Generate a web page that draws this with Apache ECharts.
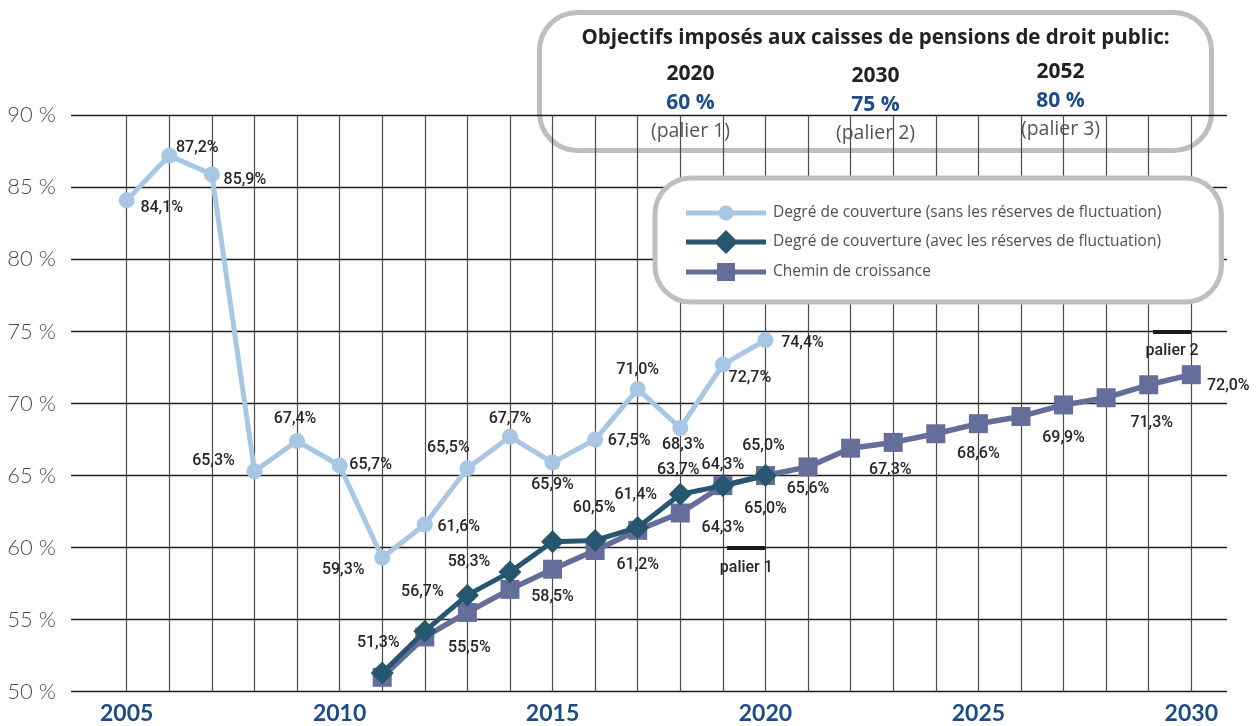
<!DOCTYPE html>
<html>
<head>
<meta charset="utf-8">
<script src="https://cdn.jsdelivr.net/npm/echarts@6/dist/echarts.min.js"></script>
<style>
  html, body { margin: 0; padding: 0; background: #fff; }
  #main { width: 1257px; height: 726px; }
</style>
</head>
<body>
<div id="main"></div>
<script>
// ---- data ----
const sansYears  = [2005, 2006, 2007, 2008, 2009, 2010, 2011, 2012, 2013, 2014, 2015, 2016, 2017, 2018, 2019, 2020];
const sansValues = [84.1, 87.2, 85.9, 65.3, 67.4, 65.7, 59.3, 61.6, 65.5, 67.7, 65.9, 67.5, 71.0, 68.3, 72.7, 74.4];

const avecYears  = [2011, 2012, 2013, 2014, 2015, 2016, 2017, 2018, 2019, 2020];
const avecValues = [51.3, 54.2, 56.7, 58.3, 60.4, 60.5, 61.4, 63.7, 64.3, 65.0];

const cheminYears  = [2011, 2012, 2013, 2014, 2015, 2016, 2017, 2018, 2019, 2020,
                      2021, 2022, 2023, 2024, 2025, 2026, 2027, 2028, 2029, 2030];
const cheminValues = [51.0, 53.8, 55.5, 57.1, 58.5, 59.8, 61.2, 62.4, 64.3, 65.0,
                      65.6, 66.9, 67.3, 67.9, 68.6, 69.1, 69.9, 70.4, 71.3, 72.0];

const seriesNames = [
  'Degré de couverture (sans les réserves de fluctuation)',
  'Degré de couverture (avec les réserves de fluctuation)',
  'Chemin de croissance'
];

const paliers = [
  { year: 2020, level: 60, name: 'palier 1' },
  { year: 2030, level: 75, name: 'palier 2' }
];

const objectifs = [
  { year: '2020', target: '60 %', name: '(palier 1)' },
  { year: '2030', target: '75 %', name: '(palier 2)' },
  { year: '2052', target: '80 %', name: '(palier 3)' }
];
const boxTitle = 'Objectifs imposés aux caisses de pensions de droit public:';

const yMin = 50, yMax = 90, yStep = 5;
const xFirst = 2005, xLast = 2030;

// ---- label placement (pixel offsets from each point, null = no label) ----
const sansLabelOffsets = [[35, 8], [28, -8], [33, 6], [-41, -10], [-2, -22], [31, 0], [-39, 12], [34, 2],
                          [-19, -20], [0, -18], [0, 22], [34, 1], [0, -19], [3, 17], [27, 13], [37, 3]];
const avecLabelOffsets = [[-4, -30], null, [-45, -3], [-41, -10], null, [-1, -32], [-2, -32], [-2, -24], [0, -21], [-2, -30]];
const cheminLabelOffsets = [null, null, [2, 36], null, [0, 28], null, [0, 35], null, [0, 42], [0, 33],
                            [0, 22], null, [-3, 28], null, [0, 30], null, [0, 33], null, [3, 38], [37, 11]];

// legend icons: line with the marker in the middle (80 x 24 box)
const legendIcons = [
  'path://M0,9.5H33V14.5H0Z M47,9.5H80V14.5H47Z M32.5,12A7.5,7.5 0 1,1 47.5,12A7.5,7.5 0 1,1 32.5,12Z',
  'path://M0,9.5H30.5L28,12L30.5,14.5H0Z M49.5,9.5H80V14.5H49.5L52,12Z M40,0L52,12L40,24L28,12Z',
  'path://M0,9.5H31V14.5H0Z M49,9.5H80V14.5H49Z M31,3H49V21H31Z'
];

const fmt = v => v.toFixed(1).replace('.', ',') + '%';
const labelFont = { color: '#262626', fontSize: 16, fontWeight: 500, fontFamily: 'Roboto, sans-serif' };

function buildData(years, values, offsets) {
  return years.map((y, i) => ({
    value: [y, values[i]],
    label: offsets[i] ? { show: true, offset: offsets[i] } : { show: false }
  }));
}

var myChart = echarts.init(document.getElementById('main'));

var option = {
  animation: false,
  backgroundColor: '#fff',
  grid: [
    // wide grid: horizontal lines + % labels
    { left: 71, right: 30, top: 115.3, bottom: 34.3 },
    // inner grid: years 2005..2030
    { left: 126.7, right: 65.7, top: 115.3, bottom: 34.3 }
  ],
  xAxis: [
    { gridIndex: 0, type: 'value', min: 0, max: 1, show: false },
    {
      gridIndex: 1, type: 'value', min: xFirst, max: xLast, interval: 1,
      axisLine: { show: false }, axisTick: { show: false },
      splitLine: { show: true, lineStyle: { color: '#4a4a4a', width: 1.2 } },
      axisLabel: {
        margin: 10, color: '#1d4b85', fontSize: 23, fontWeight: 'bold', fontFamily: 'Lato, "Noto Sans", sans-serif',
        formatter: v => (v % 5 === 0 ? String(v) : '')
      }
    }
  ],
  yAxis: [
    {
      gridIndex: 0, type: 'value', min: yMin, max: yMax, interval: yStep,
      axisLine: { show: false }, axisTick: { show: false },
      splitLine: { show: true, lineStyle: { color: '#1e1e1e', width: 1.4 } },
      axisLabel: {
        margin: 15, color: '#4d4d4d', fontSize: 22, fontWeight: 300, fontFamily: 'Lato, "Open Sans", sans-serif',
        formatter: v => v + ' %'
      }
    },
    { gridIndex: 1, type: 'value', min: yMin, max: yMax, show: false }
  ],
  legend: {
    data: seriesNames.map((n, i) => ({ name: n, icon: legendIcons[i] })),
    orient: 'vertical',
    left: 655, top: 178,
    padding: [27, 60, 21, 31],
    itemWidth: 80, itemHeight: 24, itemGap: 9,
    borderColor: '#bdbec2', borderWidth: 5, borderRadius: 36,
    backgroundColor: '#fff',
    selectedMode: false,
    textStyle: { color: '#505050', fontSize: 15.5, fontFamily: '"Open Sans", sans-serif', padding: [0, 0, 0, 2] }
  },
  series: [
    {
      name: seriesNames[0], type: 'line', xAxisIndex: 1, yAxisIndex: 1,
      data: buildData(sansYears, sansValues, sansLabelOffsets),
      symbol: 'circle', symbolSize: 16,
      lineStyle: { color: '#a8c7e5', width: 5 },
      itemStyle: { color: '#a8c7e5' },
      label: Object.assign({ position: 'inside', formatter: p => fmt(p.value[1]) }, labelFont),
      z: 3
    },
    {
      name: seriesNames[2], type: 'line', xAxisIndex: 1, yAxisIndex: 1,
      data: buildData(cheminYears, cheminValues, cheminLabelOffsets),
      symbol: 'rect', symbolSize: 19,
      lineStyle: { color: '#656e9b', width: 5.5 },
      itemStyle: { color: '#656e9b' },
      label: Object.assign({ position: 'inside', formatter: p => fmt(p.value[1]) }, labelFont),
      markLine: {
        silent: true, symbol: 'none',
        lineStyle: { color: '#1a1a1a', width: 4, type: 'solid' },
        label: Object.assign({
          show: true, position: 'insideMiddleBottom', distance: 12, formatter: p => p.name
        }, labelFont),
        data: paliers.map(p => [
          { name: p.name, coord: [p.year - 0.9, p.level] },
          { coord: [p.year, p.level] }
        ])
      },
      z: 4
    },
    {
      name: seriesNames[1], type: 'line', xAxisIndex: 1, yAxisIndex: 1,
      data: buildData(avecYears, avecValues, avecLabelOffsets),
      symbol: 'diamond', symbolSize: 23,
      lineStyle: { color: '#27566f', width: 5 },
      itemStyle: { color: '#27566f' },
      label: Object.assign({ position: 'inside', formatter: p => fmt(p.value[1]) }, labelFont),
      z: 5
    }
  ],
  graphic: [
    {
      type: 'group', left: 537, top: 10, z: 100,
      children: [
        {
          type: 'rect', shape: { x: 0, y: 0, width: 672, height: 138, r: 38 },
          style: { fill: '#fff', stroke: '#bdbec2', lineWidth: 5 }
        },
        {
          type: 'text', x: 336, y: 26,
          style: { text: boxTitle, align: 'center', verticalAlign: 'middle', fill: '#222',
                   fontSize: 20.5, fontWeight: 'bold', fontFamily: '"Open Sans", sans-serif' }
        }
      ].concat(...objectifs.map((o, i) => {
        const cx = 151 + i * 185;
        const dy = [0, 2, -2][i];
        return [
          { type: 'text', x: cx, y: 62 + dy,
            style: { text: o.year, align: 'center', verticalAlign: 'middle', fill: '#222',
                     fontSize: 21, fontWeight: 'bold', fontFamily: '"Open Sans", sans-serif' } },
          { type: 'text', x: cx, y: 91 + dy,
            style: { text: o.target, align: 'center', verticalAlign: 'middle', fill: '#1d4c8a',
                     fontSize: 21, fontWeight: 'bold', fontFamily: '"Open Sans", sans-serif' } },
          { type: 'text', x: cx, y: 119 + dy,
            style: { text: o.name, align: 'center', verticalAlign: 'middle', fill: '#555',
                     fontSize: 19.5, fontFamily: '"Open Sans", sans-serif' } }
        ];
      }))
    }
  ]
};

myChart.setOption(option);
</script>
</body>
</html>
